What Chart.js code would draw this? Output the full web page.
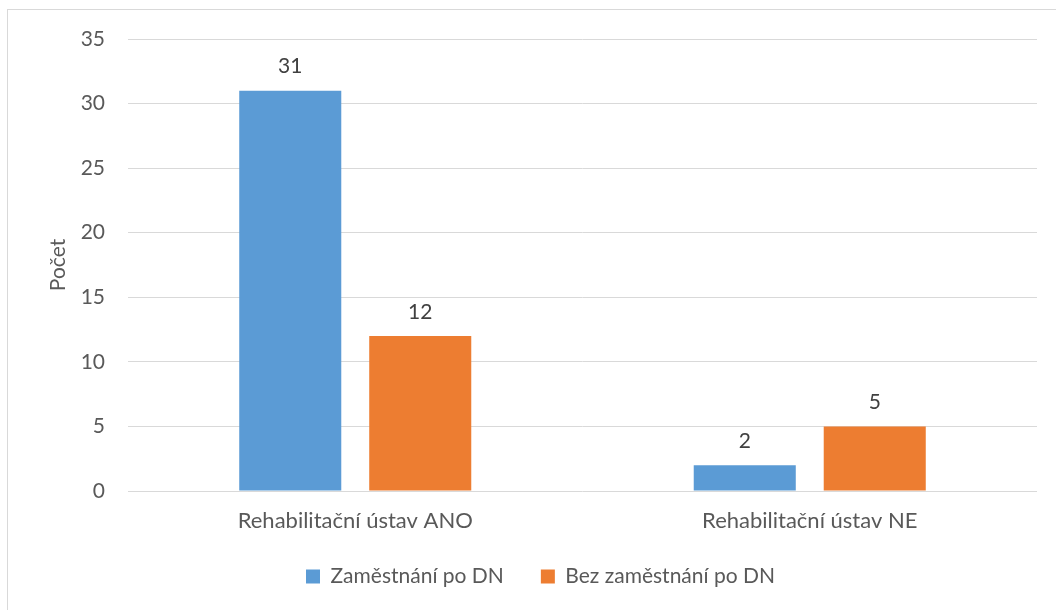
<!DOCTYPE html>
<html lang="cs">
<head>
  <meta charset="UTF-8">
  <title>Počet – rehabilitační ústav</title>
  <style>
    body {
      margin: 0;
      background: #ffffff;
    }
    .chart-container {
      width: 1056px;
      height: 610px;
    }
  </style>
</head>
<body>

  <div class="chart-container">
    <canvas id="rehabChart"></canvas>
  </div>

  <script src="https://cdn.jsdelivr.net/npm/chart.js"></script>

  <script>
    // data
    const categories = ['Rehabilitační ústav ANO', 'Rehabilitační ústav NE'];
    const seriesNames = ['Zaměstnání po DN', 'Bez zaměstnání po DN'];
    const employed = [31, 2];
    const notEmployed = [12, 5];
    const yTicks = [0, 5, 10, 15, 20, 25, 30, 35];

    const FONT = 'Lato, "Open Sans", sans-serif';
    const txtColor = '#595959';

    // frame around the chart, like the office export
    const framePlugin = {
      id: 'frame',
      beforeDraw(chart) {
        const ctx = chart.ctx;
        ctx.save();
        ctx.fillStyle = '#ffffff';
        ctx.fillRect(0, 0, chart.width, chart.height);
        ctx.strokeStyle = '#d9d9d9';
        ctx.lineWidth = 1;
        ctx.strokeRect(7.5, 9.5, chart.width + 20, chart.height + 20);
        ctx.restore();
      }
    };

    // values above the bars
    const valueLabels = {
      id: 'valueLabels',
      afterDatasetsDraw(chart) {
        const ctx = chart.ctx;
        ctx.save();
        ctx.font = '21px ' + FONT;
        ctx.fillStyle = '#404040';
        ctx.textAlign = 'center';
        ctx.textBaseline = 'middle';
        chart.data.datasets.forEach((ds, i) => {
          chart.getDatasetMeta(i).data.forEach((bar, j) => {
            ctx.fillText(ds.data[j], bar.x, bar.y - 24);
          });
        });
        ctx.restore();
      }
    };

    const ctx = document.getElementById('rehabChart').getContext('2d');
    new Chart(ctx, {
      type: 'bar',
      data: {
        labels: categories,
        datasets: [{
          label: seriesNames[0],
          data: employed,
          backgroundColor: '#5b9bd5'
        }, {
          label: seriesNames[1],
          data: notEmployed,
          backgroundColor: '#ed7d31'
        }]
      },
      options: {
        responsive: true,
        maintainAspectRatio: false,
        animation: false,
        categoryPercentage: 0.572,
        barPercentage: 0.785,
        layout: {
          // left padding shifts the legend centre to the right like the original
          padding: { top: 39, right: 19, bottom: 13, left: 44 }
        },
        scales: {
          x: {
            grid: { display: false, drawTicks: false },
            border: { display: false },
            ticks: {
              color: txtColor,
              font: { family: FONT, size: 22 },
              padding: 17
            },
            afterFit(scale) { scale.height = 38; }
          },
          y: {
            min: 0,
            max: 35,
            afterBuildTicks(scale) {
              scale.ticks = yTicks.map(v => ({ value: v }));
            },
            grid: { color: '#d9d9d9', drawTicks: false },
            border: { display: false },
            ticks: {
              color: txtColor,
              font: { family: FONT, size: 21 },
              padding: 23
            },
            title: {
              display: true,
              text: 'Počet',
              color: txtColor,
              font: { family: FONT, size: 21 },
              padding: { top: 2, bottom: 0 }
            },
            afterFit(scale) { scale.width = 84; }
          }
        },
        plugins: {
          legend: {
            position: 'bottom',
            labels: {
              color: txtColor,
              font: { family: FONT, size: 21 },
              boxWidth: 14,
              boxHeight: 14,
              padding: 37
            }
          },
          tooltip: { enabled: false }
        }
      },
      plugins: [framePlugin, valueLabels]
    });
  </script>

</body>
</html>
